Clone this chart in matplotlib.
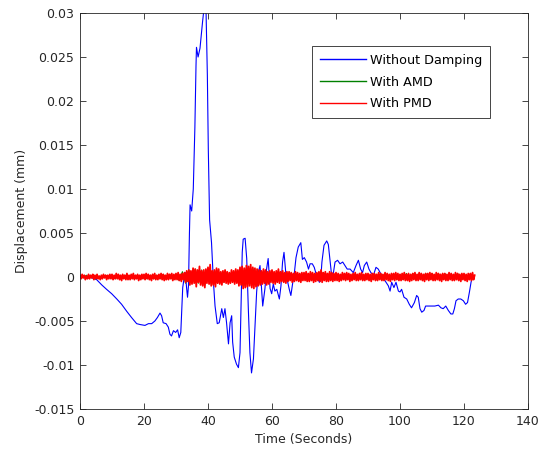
import numpy as np
import matplotlib
matplotlib.use("Agg")
import matplotlib.pyplot as plt

plt.rcParams['font.family'] = ['DejaVu Sans']

# Response without damping: time (s) and displacement (units of 1e-3 mm)
T_NONE = [0, 3.0, 5.2, 6.8, 8.3, 9.9, 11.5, 13.0, 14.6, 16.1, 17.7, 18.75, 20.3, 21.4,
          22.4, 23.4, 24.2, 25.0, 25.5, 26.0, 26.9, 27.6, 28.1, 28.6, 29.2, 29.9, 30.5,
          31.0, 31.5, 31.8, 32.1, 32.5, 32.9, 33.3, 33.6, 33.9, 34.2, 34.4, 34.9, 35.4,
          35.9, 36.25, 36.4, 36.9, 37.5, 37.9, 38.3, 38.75, 39.1, 39.4, 39.8, 40.1, 40.5,
          41.1, 41.7, 42.2, 42.9, 43.5, 44.3, 44.8, 45.3, 45.8, 46.4, 46.9, 47.4, 47.7,
          48.2, 48.9, 49.5, 50.0, 50.3, 50.7, 51.0, 51.6, 52.1, 52.6, 53.1, 53.6, 54.2,
          54.7, 55.2, 55.7, 56.25, 56.8, 57.1, 57.8, 58.3, 58.8, 59.4, 59.9, 60.4, 60.9,
          61.5, 62.3, 62.8, 63.3, 63.75, 64.3, 64.8, 65.4, 65.9, 66.5, 67.0, 67.5, 68.2,
          69.0, 69.5, 70.1, 70.8, 71.4, 71.9, 72.6, 73.2, 73.9, 74.8, 75.2, 75.6, 76.25,
          77.1, 77.6, 78.1, 78.6, 79.2, 79.7, 80.5, 81.25, 82.1, 82.8, 83.5, 84.4, 85.4,
          86.25, 87.0, 87.7, 88.3, 88.85, 89.6, 90.3, 90.9, 91.7, 92.5, 93.2, 94.3, 95.3,
          96.35, 96.9, 97.4, 98.1, 98.75, 99.5, 100.0, 100.5, 101.25, 102.1, 102.9,
          103.6, 104.5, 105.2, 105.7, 106.25, 106.8, 107.5, 108.0, 108.85, 109.9, 110.9,
          112.0, 112.8, 113.5, 114.3, 115.1, 115.9, 116.5, 117.0, 117.5, 118.2, 119.0,
          119.8, 120.5, 121.1, 121.7, 122.2, 122.6]
Y_NONE_E3 = [0, 0, -0.3, -0.9, -1.4, -1.9, -2.5, -3.1, -3.9, -4.6, -5.3, -5.4, -5.5, -5.3,
             -5.3, -5.0, -4.6, -4.1, -4.4, -5.2, -5.3, -5.7, -6.5, -6.7, -6.1, -6.3, -6.0,
             -6.9, -6.3, -3.8, -1.2, -0.2, 0.5, -1.2, -2.3, -1.0, 5.0, 8.2, 7.5, 10.0,
             17.0, 24.0, 26.1, 25.0, 26.0, 27.5, 29.0, 30.5, 31.0, 30.0, 22.9, 14.4, 6.5,
             3.9, -0.6, -3.3, -5.3, -5.2, -3.6, -4.6, -3.6, -5.2, -7.6, -5.2, -4.4, -7.4,
             -9.1, -9.9, -10.3, -8.6, -3.6, 2.8, 4.3, 4.4, 2.1, -3.6, -8.6, -10.9, -9.3,
             -5.5, -1.7, 0.5, 1.3, -1.8, -3.3, -1.3, 0.9, 2.1, -1.3, -1.9, -0.8, -1.6,
             -1.4, -2.5, -1.0, 1.7, 2.8, 0.5, -0.4, -1.4, -2.1, -0.6, 0.5, 2.2, 3.4,
             3.9, 2.0, 2.2, 1.7, 0.9, 1.5, 1.5, 1.1, 0.2, -0.6, -0.4, 1.7, 3.6,
             4.1, 3.7, 2.0, 0.3, 0.5, 1.7, 1.9, 1.5, 1.7, 1.3, 0.9, 0.9, 0.5,
             1.3, 1.9, 0.9, 0.5, 1.3, 1.7, 0.9, 0.5, 0.2, 1.1, 0.9, 0.15, -0.4,
             -1.0, -1.6, -0.6, -1.2, -0.6, -1.6, -1.7, -1.4, -2.3, -2.5, -3.1,
             -3.5, -2.9, -2.1, -2.3, -3.6, -4.0, -3.8, -3.3, -3.3, -3.3, -3.3,
             -3.2, -3.5, -3.6, -3.3, -3.8, -4.2, -4.2, -3.6, -2.7, -2.5, -2.5,
             -2.7, -3.1, -2.9, -1.7, -0.6, 0.0]

# Response with AMD, one sample per second (units of 1e-4 mm)
AMD_E4 = [1, -1, 2, -1, 1, -2, 1, -1, 2, -1,
          2, -2, 2, -2, 2, -2, 2, -2, 2, -2,
          2, -2, 2, -2, 2, -2, 3, -2, 3, -3,
          3, -4, 6, -7, 8, -6, 9, -7, 8, -9,
          7, -8, 6, -7, 5, -6, 5, -4, 6, -5,
          8, -10, 9, -8, 10, -7, 7, -6, 6, -5,
          5, -5, 4, -4, 4, -3, 4, -3, 3, -4,
          3, -4, 3, -3, 4, -3, 5, -3, 3, -3,
          3, -3, 3, -3, 3, -3, 3, -3, 3, -3,
          3, -3, 3, -3, 3, -3, 3, -3, 3, -3,
          3, -3, 4, -3, 4, -3, 4, -3, 4, -3,
          4, -3, 4, -3, 4, -3, 3, -3, 4, -3,
          3, -3, 2, 0]

# Response with PMD, three samples per second (units of 1e-4 mm)
PMD_E4 = [2, -2, 3, -1, 2, -3, 1, -2, 3, -2, 2, -1, 3, -3, 2,
          -2, 3, -2, 1, -3, 2, -2, 3, -1, 2, -3, 2, -2, 3, -2,
          3, -3, 2, -2, 4, -2, 3, -3, 2, -4, 3, -2, 2, -3, 4,
          -3, 2, -3, 3, -2, 4, -3, 2, -2, 3, -4, 2, -3, 3, -2,
          3, -3, 4, -2, 3, -3, 2, -4, 3, -2, 4, -3, 2, -3, 3,
          -2, 4, -3, 3, -4, 2, -3, 4, -3, 3, -2, 4, -4, 3, -3,
          4, -3, 5, -4, 3, -5, 4, -3, 5, -6, 7, -5, 8, -9, 7,
          -8, 10, -7, 9, -11, 8, -6, 12, -9, 7, -10, 8, -12, 9, -7,
          11, -8, 14, -10, 7, -9, 8, -11, 10, -7, 9, -8, 6, -9, 7,
          -6, 8, -7, 6, -8, 5, -7, 8, -6, 7, -8, 9, -7, 8, -10,
          11, -9, 12, -13, 10, -12, 13, -11, 12, -10, 14, -12, 11, -13, 10,
          -11, 9, -10, 8, -9, 7, -8, 9, -7, 8, -9, 6, -8, 7, -6,
          8, -7, 6, -8, 7, -6, 9, -7, 6, -5, 7, -6, 5, -7, 6,
          -5, 6, -4, 5, -6, 4, -5, 6, -4, 5, -5, 4, -6, 5, -4,
          5, -4, 6, -5, 4, -5, 6, -4, 5, -6, 4, -5, 5, -4, 6,
          -5, 8, -6, 5, -4, 6, -5, 4, -5, 6, -4, 5, -5, 4, -4,
          5, -4, 4, -5, 3, -4, 5, -3, 4, -4, 5, -3, 4, -5, 3,
          -4, 4, -3, 5, -4, 3, -4, 4, -3, 5, -4, 3, -4, 4, -3,
          4, -4, 3, -5, 4, -3, 4, -4, 3, -4, 5, -3, 4, -4, 3,
          -4, 5, -3, 4, -4, 3, -5, 4, -3, 4, -4, 5, -3, 4, -4,
          3, -4, 4, -3, 5, -4, 3, -4, 4, -5, 3, -4, 4, -3, 5,
          -4, 3, -4, 5, -3, 4, -4, 3, -5, 4, -3, 4, -4, 5, -3,
          4, -4, 3, -4, 5, -3, 4, -4, 3, -5, 4, -3, 4, -4, 3,
          -4, 5, -3, 4, -4, 3, -4, 5, -3, 4, -4, 3, -5, 4, -3,
          4, -4, 3, -5, 4, -3, 4, -4, 5, -3, 2]

LABELS = ["Without Damping", "With AMD", "With PMD"]
X_TICKS = [0, 20, 40, 60, 80, 100, 120, 140]
Y_TICKS = [-0.015, -0.01, -0.005, 0, 0.005, 0.01, 0.015, 0.02, 0.025, 0.03]
Y_TICK_LABELS = ["-0.015", "-0.01", "-0.005", "0", "0.005", "0.01", "0.015", "0.02",
                 "0.025", "0.03"]

t_none = np.array(T_NONE)
y_none = np.array(Y_NONE_E3) * 1e-3
t_amd = np.arange(len(AMD_E4)) * 1.0
y_amd = np.array(AMD_E4) * 1e-4
t_pmd = np.arange(len(PMD_E4)) / 3.0
y_pmd = np.array(PMD_E4) * 1e-4

fig = plt.figure(figsize=(5.40, 4.54), dpi=100, facecolor='white')
ax = fig.add_axes([80 / 540, 1 - 409 / 454, 448 / 540, 396 / 454])

ax.plot(t_none, y_none, color='#0000FF', lw=0.8, label=LABELS[0])
ax.plot(t_amd, y_amd, color='#008000', lw=0.8, label=LABELS[1])
ax.plot(t_pmd, y_pmd, color='#FF0000', lw=1.3, label=LABELS[2])

ax.set_xlim(0, 140)
ax.set_ylim(-0.015, 0.03)
ax.set_xticks(X_TICKS)
ax.set_xticklabels([str(v) for v in X_TICKS])
ax.set_yticks(Y_TICKS)
ax.set_yticklabels(Y_TICK_LABELS)

ax.tick_params(direction='in', length=4, width=0.6, top=True, right=True,
               labelsize=9, colors='#262626', pad=4)
for s in ax.spines.values():
    s.set_linewidth(0.6)
    s.set_color('#262626')

ax.set_xlabel("Time (Seconds)", fontsize=9, color='#262626', labelpad=4)
ax.set_ylabel("Displacement (mm)", fontsize=9, color='#262626', labelpad=4)

leg = ax.legend(loc='upper left', bbox_to_anchor=(312 / 540, 1 - 46 / 454),
                bbox_transform=fig.transFigure, borderaxespad=0, fontsize=9.2,
                frameon=True, fancybox=False, framealpha=1, edgecolor='#262626',
                handlelength=3.6, handletextpad=0.3, labelspacing=0.68, borderpad=0.62)
leg.get_frame().set_linewidth(0.6)
for h in leg.get_lines():
    h.set_linewidth(1.0)

fig.savefig("out.png", dpi=100, facecolor='white')
